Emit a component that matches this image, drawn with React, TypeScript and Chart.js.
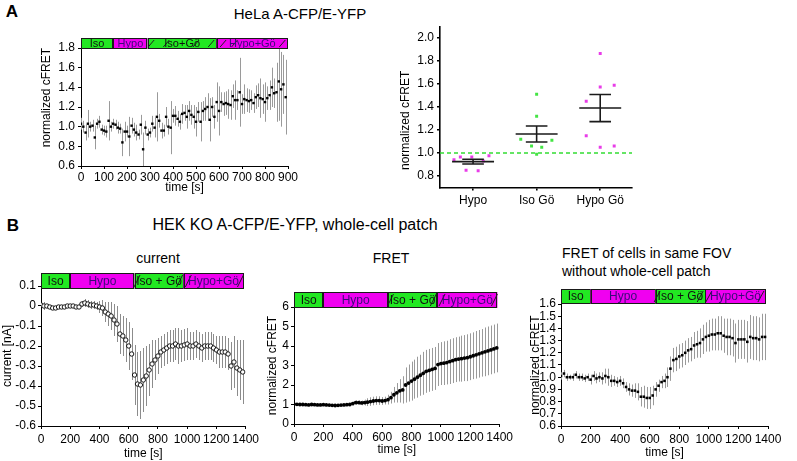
import React, { useEffect, useRef } from "react";
import { Chart, registerables } from "chart.js";

const FONT = "'Liberation Sans', Arial, Helvetica, sans-serif";
const GREEN = "#22e822";
const MAGENTA = "#f000f0";
const PURPLE = "#3a0a78";
const ERR_GRAY = "#9a9a9a";

// ---------------- Panel A (HeLa) time course ----------------
const A_STEP_S = 10;
const A_VALUES = [
  1.03, 1.0, 0.94, 1.03, 1.0, 1.01, 0.89, 1.03, 1.05, 0.97,
  0.96, 0.95, 1.06, 1.0, 1.03, 1.02, 0.99, 0.98, 0.84, 0.95,
  0.95, 0.9, 1.01, 0.97, 0.94, 0.92, 1.02, 0.77, 0.99, 0.92,
  0.94, 1.03, 0.99, 1.1, 1.06, 0.96, 0.96, 1.1, 1.0, 0.99,
  1.11, 1.11, 1.08, 1.05, 1.13, 1.14, 1.1, 1.16, 1.12, 1.1,
  1.05, 1.15, 1.05, 1.16, 1.18, 1.2, 1.07, 1.2, 1.1, 1.25,
  1.16, 1.25, 1.23, 1.24, 1.23, 1.22, 1.31, 1.27, 1.27, 1.35,
  1.23, 1.28, 1.27, 1.26, 1.27, 1.24, 1.3, 1.32, 1.29, 1.28,
  1.25, 1.29, 1.32, 1.4, 1.34, 1.35, 1.46, 1.38, 1.43, 1.3,
];
const A_ERRORS = [
  0.06, 0.06, 0.08, 0.14, 0.05, 0.06, 0.12, 0.05, 0.06, 0.05,
  0.05, 0.06, 0.2, 0.05, 0.05, 0.05, 0.06, 0.05, 0.14, 0.1,
  0.06, 0.2, 0.08, 0.07, 0.08, 0.05, 0.1, 0.17, 0.07, 0.06,
  0.05, 0.08, 0.1, 0.25, 0.07, 0.08, 0.06, 0.1, 0.08, 0.27,
  0.07, 0.1, 0.08, 0.08, 0.1, 0.08, 0.12, 0.1, 0.1, 0.12,
  0.15, 0.1, 0.2, 0.1, 0.12, 0.14, 0.22, 0.1, 0.12, 0.2,
  0.25, 0.1, 0.12, 0.12, 0.15, 0.15, 0.12, 0.2, 0.1, 0.35,
  0.1, 0.15, 0.12, 0.12, 0.1, 0.1, 0.12, 0.12, 0.2, 0.15,
  0.2, 0.12, 0.15, 0.2, 0.15, 0.3, 0.4, 0.38, 0.3, 0.38,
];
const A_X_TICKS = [0, 100, 200, 300, 400, 500, 600, 700, 800, 900];
const A_Y_TICKS = [0.6, 0.8, 1.0, 1.2, 1.4, 1.6, 1.8];
const A_COND_LABELS = ["Iso", "Hypo", "Iso+Gö", "Hypo+Gö"];
const A_COND_EDGES = [0, 140, 290, 590, 900];

// ---------------- Panel A scatter ----------------
const SCATTER_CATEGORIES = ["Hypo", "Iso Gö", "Hypo Gö"];
const HYPO_VALUES = [0.942, 0.965, 0.85, 0.965, 0.845, 0.93, 0.977];
const HYPO_JITTER = [-0.3, -0.2, -0.11, -0.02, 0.08, 0.16, 0.25];
const ISOGO_VALUES = [1.12, 1.06, 1.51, 1.32, 0.99, 1.05, 1.11];
const ISOGO_JITTER = [-0.25, -0.08, 0, 0, 0, 0.08, 0.24];
const HYPOGO_VALUES = [1.45, 1.15, 1.865, 1.574, 1.05, 1.59, 1.06];
const HYPOGO_JITTER = [-0.22, -0.22, 0, 0, 0, 0.22, 0.22];
const SCATTER_Y_TICKS = [0.8, 1.0, 1.2, 1.4, 1.6, 1.8, 2.0];
const BASELINE = 1.0;

// ---------------- Panel B (HEK KO) ----------------
const B_STEP_S = 20;
const CURRENT_VALUES = [
  0.005, 0.0, 0.0, -0.005, -0.01, -0.01, -0.005, -0.005, -0.005, 0.0,
  0.0, 0.0, -0.005, -0.005, 0.01, 0.015, 0.01, 0.005, 0.005, 0.0,
  -0.005, -0.01, -0.03, -0.04, -0.05, -0.07, -0.09, -0.14, -0.15, -0.17,
  -0.2, -0.24, -0.345, -0.39, -0.395, -0.37, -0.35, -0.32, -0.29, -0.27,
  -0.25, -0.23, -0.22, -0.21, -0.2, -0.2, -0.19, -0.2, -0.2, -0.195,
  -0.19, -0.2, -0.2, -0.19, -0.2, -0.21, -0.2, -0.2, -0.2, -0.21,
  -0.22, -0.23, -0.23, -0.23, -0.24, -0.3, -0.28, -0.31, -0.32, -0.33,
];
const CURRENT_ERRORS = [
  0.01, 0.02, 0.01, 0.01, 0.01, 0.01, 0.01, 0.01, 0.01, 0.01,
  0.01, 0.01, 0.01, 0.01, 0.015, 0.02, 0.02, 0.02, 0.02, 0.02,
  0.03, 0.04, 0.05, 0.06, 0.07, 0.08, 0.09, 0.1, 0.1, 0.11,
  0.12, 0.13, 0.15, 0.16, 0.17, 0.16, 0.15, 0.13, 0.12, 0.1,
  0.09, 0.08, 0.08, 0.08, 0.08, 0.08, 0.08, 0.09, 0.08, 0.08,
  0.08, 0.07, 0.07, 0.07, 0.07, 0.07, 0.07, 0.07, 0.07, 0.07,
  0.07, 0.08, 0.08, 0.08, 0.08, 0.12, 0.13, 0.14, 0.15, 0.16,
];
const FRET_VALUES = [
  1.02, 1.01, 1.0, 1.0, 0.99, 0.98, 1.0, 0.99, 0.98, 0.98,
  0.99, 0.98, 0.97, 0.96, 0.95, 0.96, 0.97, 0.98, 0.99, 1.0,
  1.05, 1.1, 1.1, 1.08, 1.1, 1.12, 1.15, 1.18, 1.2, 1.2,
  1.18, 1.2, 1.25, 1.35, 1.5, 1.6, 1.7, 1.75, 2.0, 2.1,
  2.2, 2.3, 2.4, 2.5, 2.6, 2.7, 2.75, 2.8, 2.85, 3.05,
  3.1, 3.12, 3.15, 3.2, 3.25, 3.3, 3.33, 3.35, 3.38, 3.4,
  3.45, 3.5, 3.55, 3.6, 3.65, 3.7, 3.75, 3.8, 3.85, 3.9,
];
const FRET_ERRORS = [
  0.05, 0.05, 0.04, 0.04, 0.04, 0.05, 0.04, 0.04, 0.04, 0.05,
  0.04, 0.04, 0.05, 0.05, 0.05, 0.05, 0.05, 0.05, 0.06, 0.08,
  0.1, 0.12, 0.12, 0.12, 0.15, 0.2, 0.22, 0.22, 0.22, 0.22,
  0.2, 0.2, 0.25, 0.3, 0.4, 0.5, 0.6, 0.7, 0.9, 0.95,
  1.0, 1.0, 1.05, 1.05, 1.1, 1.1, 1.1, 1.1, 1.1, 1.1,
  1.1, 1.12, 1.12, 1.15, 1.15, 1.15, 1.15, 1.18, 1.18, 1.2,
  1.2, 1.2, 1.22, 1.22, 1.22, 1.25, 1.25, 1.25, 1.25, 1.25,
];
const FOV_VALUES = [
  1.01, 1.03, 1.0, 1.0, 1.0, 1.02, 1.0, 1.0, 0.99, 1.0,
  0.98, 1.01, 0.99, 1.0, 0.99, 1.01, 1.0, 0.97, 0.97, 0.96,
  0.97, 0.95, 0.92, 0.9, 0.89, 0.89, 0.88, 0.84, 0.84, 0.83,
  0.83, 0.85, 0.9, 0.93, 0.96, 0.97, 1.0, 1.07, 1.14, 1.15,
  1.17, 1.18, 1.2, 1.22, 1.23, 1.26, 1.27, 1.28, 1.31, 1.33,
  1.34, 1.35, 1.35, 1.36, 1.36, 1.34, 1.33, 1.33, 1.32, 1.28,
  1.31, 1.31, 1.31, 1.29, 1.33, 1.32, 1.32, 1.31, 1.33, 1.33,
];
const FOV_ERRORS = [
  0.03, 0.03, 0.03, 0.02, 0.03, 0.03, 0.03, 0.03, 0.03, 0.03,
  0.04, 0.04, 0.04, 0.04, 0.05, 0.06, 0.07, 0.05, 0.04, 0.04,
  0.04, 0.04, 0.04, 0.05, 0.05, 0.06, 0.07, 0.08, 0.09, 0.09,
  0.09, 0.08, 0.06, 0.05, 0.05, 0.06, 0.08, 0.1, 0.1, 0.1,
  0.1, 0.1, 0.1, 0.1, 0.1, 0.11, 0.11, 0.12, 0.12, 0.12,
  0.13, 0.13, 0.13, 0.14, 0.14, 0.14, 0.15, 0.15, 0.15, 0.16,
  0.16, 0.16, 0.16, 0.17, 0.18, 0.18, 0.18, 0.18, 0.19, 0.19,
];
const B_X_TICKS = [0, 200, 400, 600, 800, 1000, 1200, 1400];
const CURRENT_Y_TICKS = [-0.6, -0.5, -0.4, -0.3, -0.2, -0.1, 0, 0.1];
const FRET_Y_TICKS = [0, 1, 2, 3, 4, 5, 6];
const FOV_Y_TICKS = [0.6, 0.7, 0.8, 0.9, 1.0, 1.1, 1.2, 1.3, 1.4, 1.5, 1.6];
const B_COND_LABELS = ["Iso", "Hypo", "Iso + Gö", "Hypo+Gö"];
const B_COND_EDGES = [0, 200, 640, 975, 1385];

// ---------------- helpers ----------------
const toPoints = (values: number[], step: number) =>
  values.map((v, i) => ({ x: i * step, y: v }));

const mean = (a: number[]) => a.reduce((s, v) => s + v, 0) / a.length;
const sem = (a: number[]) => {
  const m = mean(a);
  const v = a.reduce((s, x) => s + (x - m) * (x - m), 0) / (a.length - 1);
  return Math.sqrt(v) / Math.sqrt(a.length);
};

const condBarPlugin = {
  id: "condBar",
  afterDraw(chart: any, _args: any, opts: any) {
    if (!opts || !opts.labels) return;
    const { ctx, chartArea } = chart;
    const xs = chart.scales.x;
    const top = chartArea.top - opts.above;
    const bottom = chartArea.top + opts.below;
    ctx.save();
    opts.labels.forEach((label: string, i: number) => {
      const x0 = xs.getPixelForValue(opts.edges[i]);
      const x1 = xs.getPixelForValue(opts.edges[i + 1]);
      const isGreen = i % 2 === 0;
      ctx.fillStyle = isGreen ? GREEN : MAGENTA;
      ctx.fillRect(x0, top, x1 - x0, bottom - top);
      ctx.strokeStyle = "#1a1a1a";
      ctx.lineWidth = 1;
      ctx.strokeRect(Math.round(x0) + 0.5, Math.round(top) + 0.5, Math.round(x1 - x0) - 1, Math.round(bottom - top) - 1);
      const slashes = (opts.slashes && opts.slashes[i]) || [];
      ctx.strokeStyle = "#202020";
      slashes.forEach((f: number) => {
        const sx = x0 + f * (x1 - x0);
        ctx.beginPath();
        ctx.moveTo(sx - 3, bottom - 2);
        ctx.lineTo(sx + 3, top + 2);
        ctx.stroke();
      });
      ctx.fillStyle = isGreen ? "#111" : PURPLE;
      ctx.font = `${opts.fontSize}px ${FONT}`;
      ctx.textAlign = "center";
      ctx.textBaseline = "middle";
      ctx.fillText(label, (x0 + x1) / 2, (top + bottom) / 2 + 0.5);
    });
    ctx.restore();
  },
};

const errBarPlugin = {
  id: "errBars",
  beforeDatasetsDraw(chart: any) {
    const { ctx, chartArea } = chart;
    const xs = chart.scales.x;
    const ys = chart.scales.y;
    ctx.save();
    ctx.beginPath();
    ctx.rect(chartArea.left, chartArea.top, chartArea.right - chartArea.left, chartArea.bottom - chartArea.top);
    ctx.clip();
    chart.data.datasets.forEach((ds: any) => {
      if (!ds.errors) return;
      ctx.strokeStyle = ds.errorColor || ERR_GRAY;
      ctx.lineWidth = 1;
      ctx.beginPath();
      ds.data.forEach((p: any, i: number) => {
        const e = ds.errors[i];
        const x = Math.round(xs.getPixelForValue(p.x)) + 0.5;
        ctx.moveTo(x, ys.getPixelForValue(p.y - e));
        ctx.lineTo(x, ys.getPixelForValue(p.y + e));
      });
      ctx.stroke();
    });
    ctx.restore();
  },
};

Chart.register(...registerables, condBarPlugin, errBarPlugin);

type Rect = { left: number; top: number; width: number; height: number };
type Area = { l: number; t: number; r: number; b: number };

function padFor(rect: Rect, area: Area, yw: number, xh: number) {
  return {
    left: area.l - rect.left - yw,
    top: area.t - rect.top,
    right: rect.left + rect.width - area.r,
    bottom: rect.top + rect.height - area.b - xh,
  };
}

function axis(o: any) {
  return {
    type: "linear",
    min: o.min,
    max: o.max,
    afterBuildTicks: (s: any) => {
      s.ticks = o.ticks.map((v: number) => ({ value: v }));
    },
    afterFit: (s: any) => {
      if (o.width != null) s.width = o.width;
      if (o.height != null) s.height = o.height;
    },
    ticks: {
      autoSkip: false,
      maxRotation: 0,
      minRotation: 0,
      padding: o.tickPad ?? 2,
      color: "#000",
      font: { family: FONT, size: o.fontSize ?? 11 },
      callback: o.fmt,
    },
    grid: {
      display: true,
      drawOnChartArea: false,
      drawTicks: true,
      tickLength: o.tickLength ?? 3,
      color: "#000",
      lineWidth: o.lw ?? 1,
    },
    border: { display: true, color: "#000", width: o.lw ?? 1 },
    title: o.title
      ? {
          display: true,
          text: o.title,
          color: "#000",
          font: { family: FONT, size: 12, lineHeight: 1.2 },
          padding: 0,
          align: o.titleAlign || "center",
        }
      : { display: false },
  };
}

function baseOptions(padding: any, scales: any, condBar: any) {
  return {
    animation: false,
    responsive: false,
    maintainAspectRatio: false,
    devicePixelRatio: 1,
    events: [],
    layout: { padding },
    plugins: {
      legend: { display: false },
      tooltip: { enabled: false },
      condBar: condBar || {},
    },
    scales,
  };
}

function ChartCanvas({ rect, make }: { rect: Rect; make: () => any }) {
  const ref = useRef<HTMLCanvasElement | null>(null);
  useEffect(() => {
    if (!ref.current) return;
    const chart = new Chart(ref.current, make());
    return () => chart.destroy();
  }, []);
  return (
    <canvas
      ref={ref}
      width={rect.width}
      height={rect.height}
      style={{ position: "absolute", left: rect.left, top: rect.top, width: rect.width, height: rect.height }}
    />
  );
}

const fmt1 = (v: number) => v.toFixed(1);
const fmtCurrent = (v: number) => (Math.abs(v) < 1e-9 ? "0" : String(Math.round(v * 10) / 10));
const fmtInt = (v: number) => String(v);

// ---------------- chart builders ----------------
const RECT_A1: Rect = { left: 0, top: 28, width: 305, height: 169 };
const AREA_A1: Area = { l: 81, t: 48, r: 288, b: 166 };
function makeA1() {
  const yw = 42, xh = 29;
  return {
    type: "scatter",
    data: {
      datasets: [
        {
          data: toPoints(A_VALUES, A_STEP_S),
          errors: A_ERRORS,
          pointStyle: "rect",
          pointRadius: 1.7,
          backgroundColor: "#000",
          borderColor: "#000",
          borderWidth: 0,
        },
      ],
    },
    options: baseOptions(
      padFor(RECT_A1, AREA_A1, yw, xh),
      {
        x: axis({ min: 0, max: 900, ticks: A_X_TICKS, fmt: fmtInt, height: xh, title: "time [s]", fontSize: 12, tickPad: 1 }),
        y: axis({ min: 0.6, max: 1.8, ticks: A_Y_TICKS, fmt: fmt1, width: yw, title: "normalized cFRET", titleAlign: "end", fontSize: 12, tickPad: 3 }),
      },
      {
        labels: A_COND_LABELS,
        edges: A_COND_EDGES,
        above: 10,
        below: 1,
        fontSize: 11,
        slashes: [[], [], [0.05, 0.27, 0.7, 0.92], [0.09, 0.25, 0.92]],
      }
    ),
  };
}

const RECT_A2: Rect = { left: 370, top: 14, width: 275, height: 205 };
const AREA_A2: Area = { l: 440, t: 26.5, r: 632, b: 187.5 };
function makeA2() {
  const yw = 42, xh = 25;
  const groups = [HYPO_VALUES, ISOGO_VALUES, HYPOGO_VALUES];
  const jitters = [HYPO_JITTER, ISOGO_JITTER, HYPOGO_JITTER];
  const summary: any[] = [];
  groups.forEach((g, i) => {
    const m = mean(g);
    const s = sem(g);
    summary.push(
      { x: i - 0.33, y: m }, { x: i + 0.33, y: m }, { x: i, y: null },
      { x: i - 0.17, y: m + s }, { x: i + 0.17, y: m + s }, { x: i, y: null },
      { x: i - 0.17, y: m - s }, { x: i + 0.17, y: m - s }, { x: i, y: null },
      { x: i, y: m - s }, { x: i, y: m + s }, { x: i, y: null }
    );
  });
  const pts = (gi: number) => groups[gi].map((v, k) => ({ x: gi + jitters[gi][k], y: v }));
  const dotStyle = (c: string) => ({
    pointStyle: "rect",
    pointRadius: 2.1,
    backgroundColor: c,
    borderColor: c,
    borderWidth: 0,
    showLine: false,
  });
  return {
    type: "scatter",
    data: {
      datasets: [
        {
          data: summary,
          showLine: true,
          spanGaps: false,
          borderColor: "#1a1a1a",
          borderWidth: 1.6,
          pointRadius: 0,
        },
        { data: pts(0), ...dotStyle("#e83ce8") },
        { data: pts(1), ...dotStyle("#44e444") },
        { data: pts(2), ...dotStyle("#e83ce8") },
        {
          data: [
            { x: -0.52, y: BASELINE },
            { x: 2.5, y: BASELINE },
          ],
          showLine: true,
          borderColor: "#33dd33",
          borderWidth: 1.4,
          borderDash: [4, 3],
          pointRadius: 0,
        },
      ],
    },
    options: baseOptions(
      padFor(RECT_A2, AREA_A2, yw, xh),
      {
        x: axis({
          min: -0.52,
          max: 2.5,
          ticks: [0, 1, 2],
          fmt: (v: number) => SCATTER_CATEGORIES[Math.round(v)] ?? "",
          height: xh,
          lw: 1.6,
          fontSize: 12,
          tickPad: 3,
        }),
        y: axis({
          min: 0.7,
          max: 2.1,
          ticks: SCATTER_Y_TICKS,
          fmt: fmt1,
          width: yw,
          title: "normalized cFRET" + "\u00a0".repeat(8),
          lw: 1.6,
          fontSize: 12,
          tickPad: 3,
        }),
      },
      null
    ),
  };
}

const B_SLASHES = [[], [], [0.05, 0.92], [0.08, 0.95]];

const RECT_B1: Rect = { left: 0, top: 262, width: 262, height: 199 };
const AREA_B1: Area = { l: 41, t: 286, r: 248, b: 426 };
function makeB1() {
  const yw = 41, xh = 35;
  return {
    type: "scatter",
    data: {
      datasets: [
        {
          data: toPoints(CURRENT_VALUES, B_STEP_S),
          errors: CURRENT_ERRORS,
          errorColor: "#8c8c8c",
          pointStyle: "circle",
          pointRadius: 2.2,
          backgroundColor: "#fff",
          borderColor: "#000",
          borderWidth: 0.9,
        },
      ],
    },
    options: baseOptions(
      padFor(RECT_B1, AREA_B1, yw, xh),
      {
        x: axis({ min: 0, max: 1400, ticks: B_X_TICKS, fmt: fmtInt, height: xh, title: "time [s]", fontSize: 12, tickPad: 3 }),
        y: axis({ min: -0.6, max: 0.1, ticks: CURRENT_Y_TICKS, fmt: fmtCurrent, width: yw, title: "current [nA]", fontSize: 12, tickPad: 2 }),
      },
      { labels: B_COND_LABELS, edges: B_COND_EDGES, above: 13, below: 3, fontSize: 12, slashes: B_SLASHES }
    ),
  };
}

const RECT_B2: Rect = { left: 262, top: 280, width: 254, height: 181 };
const AREA_B2: Area = { l: 294, t: 307, r: 502, b: 424 };
function makeB2() {
  const yw = 29, xh = 33;
  return {
    type: "scatter",
    data: {
      datasets: [
        {
          data: toPoints(FRET_VALUES, B_STEP_S),
          errors: FRET_ERRORS,
          pointStyle: "circle",
          pointRadius: 1.9,
          backgroundColor: "#000",
          borderColor: "#000",
          borderWidth: 0,
        },
      ],
    },
    options: baseOptions(
      padFor(RECT_B2, AREA_B2, yw, xh),
      {
        x: axis({ min: 0, max: 1400, ticks: B_X_TICKS, fmt: fmtInt, height: xh, title: "time [s]", fontSize: 12, tickPad: 3 }),
        y: axis({ min: 0, max: 6, ticks: FRET_Y_TICKS, fmt: fmtInt, width: yw, title: "normalized cFRET", fontSize: 12, tickPad: 2 }),
      },
      { labels: B_COND_LABELS, edges: B_COND_EDGES, above: 15, below: 1, fontSize: 12, slashes: B_SLASHES }
    ),
  };
}

const RECT_B3: Rect = { left: 516, top: 280, width: 281, height: 181 };
const AREA_B3: Area = { l: 561, t: 304, r: 768, b: 426 };
function makeB3() {
  const yw = 33, xh = 34;
  return {
    type: "scatter",
    data: {
      datasets: [
        {
          data: toPoints(FOV_VALUES, B_STEP_S),
          errors: FOV_ERRORS,
          pointStyle: "rect",
          pointRadius: 1.8,
          backgroundColor: "#000",
          borderColor: "#000",
          borderWidth: 0,
        },
      ],
    },
    options: baseOptions(
      padFor(RECT_B3, AREA_B3, yw, xh),
      {
        x: axis({ min: 0, max: 1400, ticks: B_X_TICKS, fmt: fmtInt, height: xh, title: "time [s]", fontSize: 12, tickPad: 3 }),
        y: axis({ min: 0.6, max: 1.6, ticks: FOV_Y_TICKS, fmt: fmt1, width: yw, title: "normalized cFRET", fontSize: 12, tickPad: 2 }),
      },
      { labels: B_COND_LABELS, edges: B_COND_EDGES, above: 15, below: 0, fontSize: 12, slashes: [[], [], [0.03, 0.9], [0.06, 0.92]] }
    ),
  };
}

function Text({ x, y, size, bold, children }: any) {
  return (
    <div
      style={{
        position: "absolute",
        left: x,
        top: y,
        transform: "translate(-50%, -50%)",
        fontFamily: FONT,
        fontSize: size,
        fontWeight: bold ? "bold" : "normal",
        lineHeight: 1,
        whiteSpace: "nowrap",
        color: "#000",
      }}
    >
      {children}
    </div>
  );
}

export default function App() {
  return (
    <div
      style={{
        position: "absolute",
        left: 0,
        top: 0,
        width: 797,
        height: 461,
        overflow: "hidden",
        background: "#fff",
      }}
    >
      <Text x={12} y={11} size={17} bold>A</Text>
      <Text x={300} y={13} size={15}>HeLa A-CFP/E-YFP</Text>
      <Text x={13} y={225} size={17} bold>B</Text>
      <Text x={295} y={225} size={16}>HEK KO A-CFP/E-YFP, whole-cell patch</Text>
      <Text x={158} y={258} size={14}>current</Text>
      <Text x={391} y={258} size={14}>FRET</Text>
      <div
        style={{
          position: "absolute",
          left: 562,
          top: 244,
          fontFamily: FONT,
          fontSize: 14,
          lineHeight: "18px",
          whiteSpace: "pre",
          color: "#000",
        }}
      >
        {"FRET of cells in same FOV\nwithout whole-cell patch"}
      </div>
      <ChartCanvas rect={RECT_A1} make={makeA1} />
      <ChartCanvas rect={RECT_A2} make={makeA2} />
      <ChartCanvas rect={RECT_B1} make={makeB1} />
      <ChartCanvas rect={RECT_B2} make={makeB2} />
      <ChartCanvas rect={RECT_B3} make={makeB3} />
    </div>
  );
}
